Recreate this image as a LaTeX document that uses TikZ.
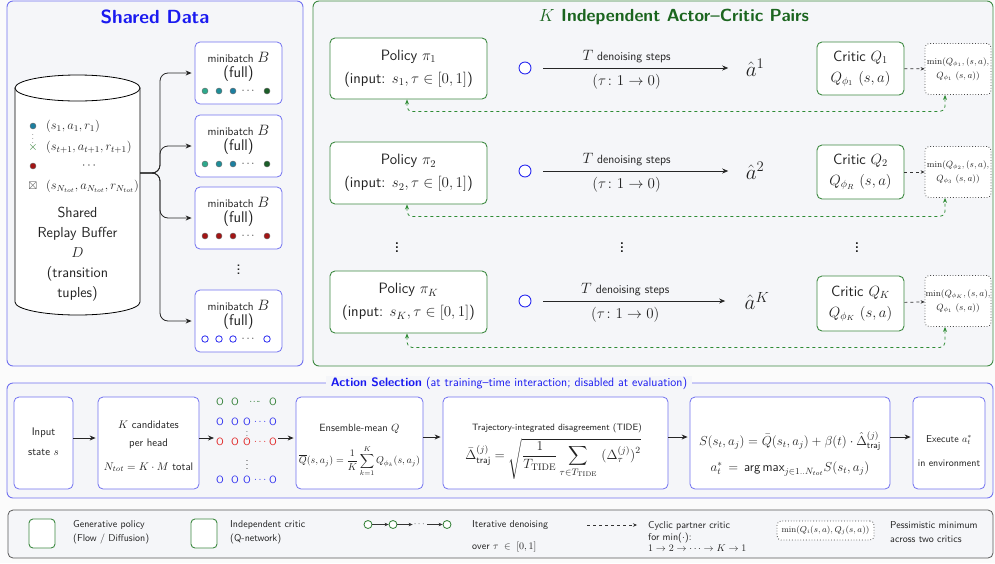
\RequirePackage{fix-cm}
\documentclass[tikz,border=0pt]{standalone}
\usepackage{amsmath,amssymb}
\usepackage{fontspec}
\usetikzlibrary{arrows.meta,calc}
\definecolor{bgc}{HTML}{FBFBFB}
\definecolor{panel}{HTML}{F5F6F9}
\definecolor{bbord}{HTML}{7272F0}
\definecolor{btitle}{HTML}{1A1AF0}
\definecolor{gbord}{HTML}{3E8A42}
\definecolor{gtitle}{HTML}{1B651F}
\definecolor{fbg}{HTML}{2E8B34}
\definecolor{txt}{HTML}{222222}
\definecolor{tealA}{HTML}{2EA98C}
\definecolor{tealB}{HTML}{1F8E98}
\definecolor{tealC}{HTML}{1C7FA0}
\definecolor{dkg}{HTML}{1B5E28}
\definecolor{dred}{HTML}{A31515}
\definecolor{cblue}{HTML}{2B2BF0}
\definecolor{cgreen}{HTML}{2E7D32}
\definecolor{cred}{HTML}{E02020}
\newcommand\fsz[2]{\fontsize{#1}{#2}\selectfont\sffamily}
\begin{document}
\begin{tikzpicture}[x=1pt,y=-1pt,
  font=\sffamily, text=txt,
  arr/.style={-{Stealth[length=6pt,width=5pt]}, line width=0.8pt, draw=black!85},
  sarr/.style={-{Stealth[length=4pt,width=3.5pt]}, line width=0.7pt, draw=black!80},
  pbox/.style={draw=gbord, line width=0.9pt, rounded corners=5pt, fill=white, align=center, inner sep=0pt},
  bbox/.style={draw=bbord, line width=0.8pt, rounded corners=5pt, fill=white, align=center, inner sep=0pt},
  minbox/.style={draw=black!70, dotted, line width=0.8pt, rounded corners=4pt, fill=white, align=center, inner sep=0pt},
  fbarr/.style={{Stealth[length=5pt,width=4pt]}-{Stealth[length=5pt,width=4pt]}, draw=fbg, dashed, line width=0.8pt, rounded corners=5pt},
  fdot/.style={circle, draw=black!60, line width=0.4pt, fill=#1, inner sep=0pt, minimum size=6pt},
  odot/.style={circle, draw=#1, line width=0.8pt, inner sep=0pt, minimum size=6.5pt, fill=white},
  bcirc/.style={circle, draw=cblue, line width=0.9pt, minimum size=12pt, inner sep=0pt, fill=white},
  oletter/.style={inner sep=0pt, font=\fsz{10.5}{12}, text=#1},
  lbl/.style={inner sep=0pt, align=center},
  leg/.style={anchor=west, align=left, inner sep=0pt},
]
\fill[bgc] (0,0) rectangle (995,563);
\useasboundingbox (0,0) rectangle (995,563);

% ---------- Shared data panel
\draw[bbord, line width=0.9pt, fill=panel, rounded corners=6pt] (7,1) rectangle (303,366);
\node[text=btitle, font=\fsz{19}{22}\bfseries] (sdtitle) at (155,17) {Shared Data};

% cylinder
\draw[line width=0.8pt, fill=white] (15,88) -- (15,302) arc[start angle=180, end angle=0, x radius=62.5, y radius=13] -- (140,88) -- cycle;
\draw[line width=0.8pt, fill=white] (77.5,88) ellipse[x radius=62.5, y radius=13];
\coordinate (cylR) at (140,173);

% tuples
\node[fdot=tealC] (t1) at (33,126) {};
\node[inner sep=0pt, font=\fsz{7}{7}] (t1d) at (33,136) {$\vdots$};
\node[inner sep=0pt, text=cgreen, font=\fsz{12}{12}\bfseries] (t2) at (33,147) {$\times$};
\node[fdot=dred] (t3) at (33,166) {};
\node[inner sep=0pt, font=\fsz{11}{11}, text=black!70] (t4) at (33,186) {$\boxtimes$};
\node[anchor=west, inner sep=0pt, font=\fsz{12.5}{13}] (tt1) at (46,126) {$(s_1, a_1, r_1)$};
\node[anchor=west, inner sep=0pt, font=\fsz{12.5}{13}] (tt2) at (46,147) {$(s_{t+1}, a_{t+1}, r_{t+1})$};
\node[font=\fsz{12}{13}] (tt3) at (90,166) {$\cdots$};
\node[anchor=west, inner sep=0pt, font=\fsz{12.5}{13}] (tt4) at (46,186) {$(s_{N_{tot}}, a_{N_{tot}}, r_{N_{tot}})$};
\node[align=center, font=\fsz{14.5}{20}] (buf) at (77.5,254) {Shared\\Replay Buffer\\$D$\\(transition\\tuples)};

% minibatches
\foreach \i/\yc in {1/73,2/146,3/218,4/321}{
  \node[bbox, minimum width=87pt, minimum height=62pt] (mb\i) at (238.5,\yc) {};
  \node[lbl, font=\fsz{11.5}{12}] at (238.5,\yc-16) {minibatch {\fsz{15}{15}$B$}};
  \node[lbl, font=\fsz{15.5}{16}] at (238.5,\yc+1) {(full)};
  \node[font=\fsz{11}{12}] at (249,\yc+18) {$\cdots$};
  \draw[arr, rounded corners=8pt] (cylR) -- (160,173) |- ([xshift=-3pt]mb\i.west);
}
\foreach \i/\yc in {1/73,2/146}{
  \node[fdot=tealA] at (205,\yc+18) {};
  \node[fdot=tealB] at (219,\yc+18) {};
  \node[fdot=tealC] at (233,\yc+18) {};
  \node[fdot=dkg] at (267,\yc+18) {};
}
\node[fdot=dred] at (205,236) {};
\node[fdot=dred] at (219,236) {};
\node[fdot=dred] at (233,236) {};
\node[fdot=dred] at (267,236) {};
\node[odot=cblue] at (205,339) {};
\node[odot=cblue] at (219,339) {};
\node[odot=cblue] at (233,339) {};
\node[odot=cblue] at (267,339) {};
\node[lbl, font=\fsz{19}{19}] (mbdots) at (238.5,267) {$\vdots$};

% ---------- Actor-critic panel
\draw[gbord, line width=0.9pt, fill=panel, rounded corners=6pt] (313,1) rectangle (993,366);
\node[text=gtitle, font=\fsz{17.5}{20}\bfseries] (actitle) at (674,17) {$K$ Independent Actor--Critic Pairs};
\coordinate (fa) at (407,0);
\coordinate (fb) at (945,0);

% row 1
\node[pbox, minimum width=157pt, minimum height=61pt, font=\fsz{15}{20}] (pol1) at (408.5,68.5) {Policy $\pi_1$\\[3pt](input: $s_1, \tau\in[0,1]$)};
\node[bcirc] (c1) at (525,68) {};
\node[font=\fsz{21}{24}] (ah1) at (755,68) {$\hat a^1$};
\draw[arr] ([xshift=12pt]c1.east) -- ([xshift=-14pt]ah1.west)
  node[pos=0.45, above=1.5pt, font=\fsz{12}{13}] {{\fsz{15}{15}$T$}\ denoising steps}
  node[pos=0.45, below=3pt, font=\fsz{15}{16}] {$(\tau\colon 1\to 0)$};
\node[pbox, minimum width=87pt, minimum height=53pt, font=\fsz{14.8}{19}] (cr1) at (860.5,68.5) {Critic $Q_1$\\[2pt]$Q_{\phi_1}\ (s,a)$};
\node[minbox, minimum width=66pt, minimum height=51pt, font=\fsz{9}{14}] (mn1) at (958,69) {$\min(Q_{\phi_1},(s,a),$\\$Q_{\phi_1}\ (s,a))$};
\draw[sarr, dashed] (cr1) -- (mn1);
\draw[fbarr] (pol1.south -| fa) -- ++(0,12) -| (mn1.south -| fb);

% row 2
\node[pbox, minimum width=157pt, minimum height=62pt, font=\fsz{15}{20}] (pol2) at (408.5,173) {Policy $\pi_2$\\[3pt](input: $s_2, \tau\in[0,1]$)};
\node[bcirc] (c2) at (525,171) {};
\node[font=\fsz{21}{24}] (ah2) at (755,171) {$\hat a^2$};
\draw[arr] ([xshift=12pt]c2.east) -- ([xshift=-14pt]ah2.west)
  node[pos=0.45, above=1.5pt, font=\fsz{12}{13}] {{\fsz{15}{15}$T$}\ denoising steps}
  node[pos=0.45, below=3pt, font=\fsz{15}{16}] {$(\tau\colon 1\to 0)$};
\node[pbox, minimum width=87pt, minimum height=54pt, font=\fsz{14.8}{19}] (cr2) at (860.5,172) {Critic $Q_2$\\[2pt]$Q_{\phi_R}\ (s,a)$};
\node[minbox, minimum width=66pt, minimum height=51pt, font=\fsz{9}{14}] (mn2) at (958,172) {$\min(Q_{\phi_2},(s,a),$\\$Q_{\phi_3}\ (s,a))$};
\draw[sarr, dashed] (cr2) -- (mn2);
\draw[fbarr] (pol2.south -| fa) -- ++(0,12) -| (mn2.south -| fb);

% dots
\node[lbl, font=\fsz{22}{22}] (vd1) at (397,245) {$\vdots$};
\node[lbl, font=\fsz{22}{22}] (vd2) at (622,245) {$\vdots$};
\node[lbl, font=\fsz{22}{22}] (vd3) at (857,245) {$\vdots$};

% row K
\node[pbox, minimum width=157pt, minimum height=62pt, font=\fsz{15}{20}] (polK) at (408.5,302) {Policy $\pi_K$\\[3pt](input: $s_K, \tau\in[0,1]$)};
\node[bcirc] (cK) at (525,301) {};
\node[font=\fsz{21}{24}] (ahK) at (757,301) {$\hat a^K$};
\draw[arr] ([xshift=12pt]cK.east) -- ([xshift=-16pt]ahK.west)
  node[pos=0.45, above=1.5pt, font=\fsz{12}{13}] {{\fsz{15}{15}$T$}\ denoising steps}
  node[pos=0.45, below=3pt, font=\fsz{15}{16}] {$(\tau\colon 1\to 0)$};
\node[pbox, minimum width=87pt, minimum height=55pt, font=\fsz{14.8}{19}] (crK) at (860.5,303.5) {Critic $Q_K$\\[2pt]$Q_{\phi_K}\ (s,a)$};
\node[minbox, minimum width=66pt, minimum height=51pt, font=\fsz{9}{14}] (mnK) at (958,301) {$\min(Q_{\phi_K},(s,a),$\\$Q_{\phi_1}\ (s,a))$};
\draw[sarr, dashed] (crK) -- (mnK);
\draw[fbarr] (polK.south -| fa) -- ++(0,14) -| (mnK.south -| fb);

% ---------- Action selection panel
\draw[bbord, line width=0.9pt, fill=panel, rounded corners=6pt] (7,383) rectangle (993,498);
\node[fill=panel, inner xsep=5pt, inner ysep=1pt, font=\fsz{12.2}{14}, text=btitle] (astitle) at (509,383) {\textbf{Action Selection} (at training--time interaction; disabled at evaluation)};

\node[bbox, minimum width=59pt, minimum height=92pt] (inp) at (43.5,443) {};
\node[lbl, font=\fsz{11}{12}] at (43.5,433) {Input};
\node[lbl, font=\fsz{11}{12}] at (43.5,452) {state $s$};

\node[bbox, minimum width=101pt, minimum height=92pt] (cand) at (148.5,443) {};
\node[lbl, font=\fsz{11}{12}] at (148.5,425) {$K$ candidates};
\node[lbl, font=\fsz{11}{12}] at (148.5,444) {per head};
\node[lbl, font=\fsz{11}{12}] at (148.5,467) {$N_{tot} = K\cdot M$ total};

% candidate grid
\coordinate (gl) at (214,438);
\coordinate (gr) at (278,438);
\node[oletter=cgreen] at (220,402) {O};
\node[oletter=cgreen] at (235,402) {O};
\node[oletter=cgreen] at (255,402) {$\cdot\!\cdot\!\cdot\!\cdot$};
\node[oletter=cgreen] at (273,402) {O};
\foreach \yy/\cc in {422/cblue,442/cred,480/cblue}{
  \node[oletter=\cc] at (220,\yy) {O};
  \node[oletter=\cc] at (235,\yy) {O};
  \node[oletter=\cc] at (247,\yy) {O};
  \node[oletter=\cc] at (261,\yy) {$\cdots$};
  \node[oletter=\cc] at (273,\yy) {O};
}
\node[lbl, font=\fsz{8}{8}] at (247,433) {$\vdots$};
\node[lbl, font=\fsz{11}{11}] at (247,462) {$\vdots$};

\node[bbox, minimum width=127pt, minimum height=92pt] (ens) at (359.5,443) {};
\node[lbl, font=\fsz{10.5}{12}] at (359.5,429) {Ensemble-mean $Q$};
\node[lbl, font=\fsz{10}{12}] at (359.5,461) {$\overline{Q}(s,a_j) = \dfrac{1}{K}\displaystyle\sum_{k=1}^{K} Q_{\phi_k}(s,a_j)$};

\node[bbox, minimum width=225pt, minimum height=92pt] (tide) at (555.5,443) {};
\node[lbl, font=\fsz{9.2}{11}] at (557,428) {Trajectory-integrated disagreement (TIDE)};
\node[lbl, font=\fsz{13.5}{15}] at (553,459) {$\bar\Delta^{(j)}_{\text{traj}} = \sqrt{\dfrac{1}{T_{\mathrm{TIDE}}}\displaystyle\sum_{\tau\in T_{\mathrm{TIDE}}}\ (\Delta_\tau^{(j)})^2}$};

\node[bbox, minimum width=200pt, minimum height=92pt] (score) at (790,443) {};
\node[lbl, font=\fsz{13}{14}] at (790,441) {$S(s_t,a_j) = \bar Q(s_t,a_j) + \beta(t)\cdot\hat\Delta^{(j)}_{\text{traj}}$};
\node[lbl, font=\fsz{13}{14}] at (790,469) {$a_t^* \,=\, \text{\sffamily arg\,max}_{j\in 1..N_{tot}} S(s_t,a_j)$};

\node[bbox, minimum width=72pt, minimum height=92pt] (exec) at (949,443) {};
\node[lbl, font=\fsz{10}{12}] at (949,440) {Execute $a_t^*$};
\node[lbl, font=\fsz{10}{12}] at (949,463) {in environment};

\draw[arr] (inp.east |- 0,438) -- ([xshift=-2pt]cand.west |- 0,438);
\draw[arr] (cand.east |- 0,438) -- (gl);
\draw[arr] (gr) -- ([xshift=-2pt]ens.west |- 0,438);
\draw[arr] (ens.east |- 0,437) -- ([xshift=-2pt]tide.west |- 0,437);
\draw[arr] (tide.east |- 0,437) -- ([xshift=-2pt]score.west |- 0,437);
\draw[arr] (score.east |- 0,437) -- ([xshift=-2pt]exec.west |- 0,437);

% ---------- Legend
\draw[black!65, line width=0.8pt, fill=panel, rounded corners=5pt] (8,510) rectangle (993,558);
\node[draw=gbord, line width=0.9pt, rounded corners=4pt, fill=white, minimum width=26pt, minimum height=29pt] (lg1) at (42,533.5) {};
\node[leg, font=\fsz{10}{14}] (lt1) at (73,532) {Generative policy\\(Flow / Diffusion)};
\node[draw=gbord, line width=0.9pt, rounded corners=4pt, fill=white, minimum width=26pt, minimum height=29pt] (lg2) at (204,533.5) {};
\node[leg, font=\fsz{10}{14}] (lt2) at (230,532) {Independent critic\\(Q-network)};
\node[odot=cgreen, minimum size=8pt] (l1) at (368,524.5) {};
\node[odot=cgreen, minimum size=8pt] (l2) at (393,524.5) {};
\node[inner sep=1pt, font=\fsz{9}{10}] (ld) at (420,524.5) {$\cdots$};
\node[odot=cgreen, minimum size=8pt] (l3) at (447,524.5) {};
\draw[sarr] (l1) -- (l2);
\draw[sarr] (l2) -- (ld);
\draw[sarr] (ld) -- (l3);
\node[leg, font=\fsz{10}{22}] (lt3) at (472,536) {Iterative denoising\\over $\tau\;\in\;[0,1]$};
\coordinate (da) at (587,525);
\coordinate (db) at (637,525);
\draw[sarr, dashed] (da) -- (db);
\node[leg, font=\fsz{10}{11.5}] (lt4) at (648,536.5) {Cyclic partner critic\\for min($\cdot$):\\$1\to2\to\cdots\to K\to1$};
\node[minbox, minimum width=97pt, minimum height=19pt, font=\fsz{8.6}{10}] (lmin) at (825.5,530.5) {$\min(Q_i(s,a),Q_j(s,a))$};
\node[leg, font=\fsz{10}{14}] (lt5) at (890,532) {Pessimistic minimum\\across two critics};
\end{tikzpicture}
\end{document}
